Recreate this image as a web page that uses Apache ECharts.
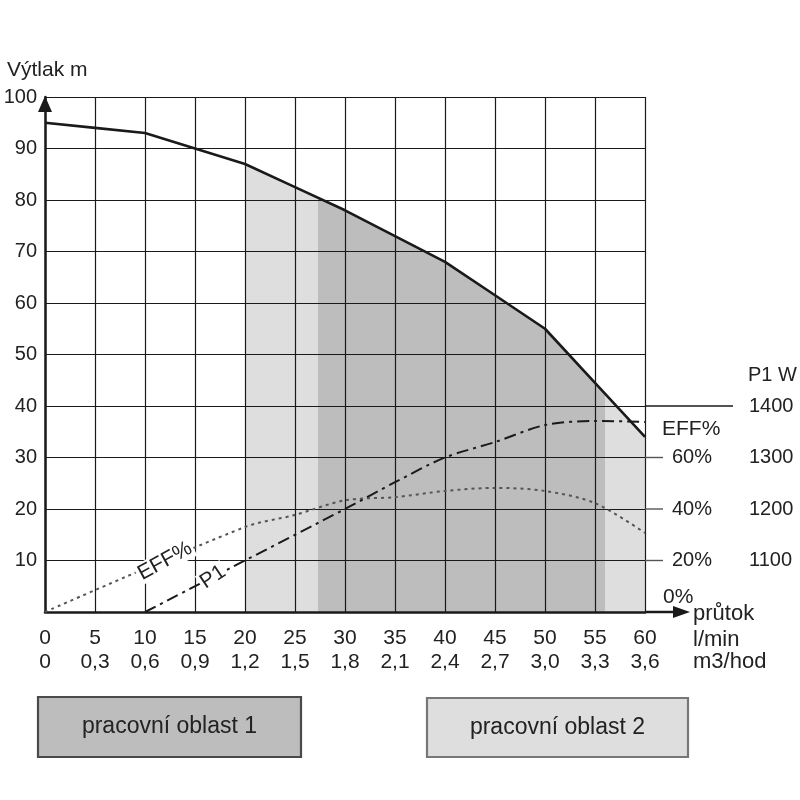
<!DOCTYPE html>
<html><head><meta charset="utf-8">
<script src="https://cdn.jsdelivr.net/npm/echarts@6/dist/echarts.min.js"></script>
<style>html,body{margin:0;padding:0;background:#fff}#c{width:800px;height:800px}</style>
</head><body><div id="c"></div>
<script>
// ---- data ----
const flowLmin = [0,5,10,15,20,25,30,35,40,45,50,55,60];
const flowM3h  = ['0','0,3','0,6','0,9','1,2','1,5','1,8','2,1','2,4','2,7','3,0','3,3','3,6'];
const headM    = [95,94,93,90,87,82.5,78,73,68,61.5,55,44.5,34];
const effX     = [0,20,25,30,35,40,45,50,55,60];
const effPct   = [0,33,37.7,43.4,44.6,47,48.2,47,42.3,30.7];
const p1X      = [10,20,30,35,40,45,50,55,60];
const p1W      = [1000,1100,1200,1252,1300,1330,1363,1371,1369];
const headTicks = [10,20,30,40,50,60,70,80,90,100];
const effTicks  = [20,40,60];
const p1Ticks   = [1100,1200,1300,1400];
const zone1 = [27.3, 56];   // pracovní oblast 1
const zone2 = [20, 60];     // pracovní oblast 2
const legendNames = ['pracovní oblast 1','pracovní oblast 2'];

const FONT = "'Liberation Sans', Arial, sans-serif";
const DARK = '#bdbdbd', LIGHT = '#dedede', INK = '#1a1a1a';

const chart = echarts.init(document.getElementById('c'), null, {renderer:'canvas'});
const pairs = (xs, ys) => xs.map((x,i)=>[x, ys[i]]);

chart.setOption({
  animation:false,
  backgroundColor:'#fff',
  textStyle:{fontFamily:FONT},
  grid:{left:45, right:155, top:97, bottom:188, containLabel:false},
  xAxis:{
    type:'value', min:0, max:60, interval:5,
    axisLine:{show:true, lineStyle:{color:INK, width:2.5}},
    axisTick:{show:false},
    splitLine:{show:true, lineStyle:{color:INK, width:1.2}},
    axisLabel:{
      color:'#222', fontSize:21, fontFamily:FONT, margin:14, lineHeight:24,
      formatter:v=>{const i=flowLmin.indexOf(v); return i<0?'':flowLmin[i]+'\n'+flowM3h[i];}
    }
  },
  yAxis:[
    {type:'value', min:0, max:100, interval:10,
     axisLine:{show:true, lineStyle:{color:INK, width:2.5}},
     axisTick:{show:false},
     splitLine:{show:true, lineStyle:{color:INK, width:1.2}},
     axisLabel:{color:'#222', fontSize:20, fontFamily:FONT, margin:8,
       formatter:v=>headTicks.includes(v)?String(v):''}},
    {type:'value', min:0, max:200, interval:20, position:'right', offset:0,
     axisLine:{show:false}, axisTick:{show:false}, splitLine:{show:false},
     axisLabel:{color:'#222', fontSize:20, fontFamily:FONT, margin:27,
       formatter:v=>effTicks.includes(v)?v+'%':''}},
    {type:'value', min:1000, max:2000, interval:100, position:'right', offset:97,
     axisLine:{show:false}, axisTick:{show:false}, splitLine:{show:false},
     axisLabel:{color:'#222', fontSize:20, fontFamily:FONT, margin:7,
       formatter:v=>p1Ticks.includes(v)?String(v):''}}
  ],
  visualMap:[{
    type:'piecewise', show:false, dimension:0, seriesIndex:0,
    pieces:[
      {min:zone2[0], max:zone1[0], color:LIGHT},
      {min:zone1[0], max:zone1[1], color:DARK},
      {min:zone1[1], max:zone2[1], color:LIGHT}
    ],
    outOfRange:{color:'rgba(255,255,255,0)'}
  }],
  series:[
    {name:'zones', type:'line', z:-1, data:pairs(flowLmin, headM), showSymbol:false, silent:true,
     lineStyle:{width:0, opacity:0}, areaStyle:{opacity:1}},
    {name:'Výtlak', type:'line', data:pairs(flowLmin, headM), showSymbol:false, z:5,
     lineStyle:{color:INK, width:2.6}},
    {name:'EFF%', type:'line', yAxisIndex:1, data:pairs(effX, effPct), showSymbol:false, smooth:0.3, z:4,
     lineStyle:{color:'#555', width:2, type:[3,4]}},
    {name:'P1', type:'line', yAxisIndex:2, data:pairs(p1X, p1W), showSymbol:false, smooth:0.3, z:4,
     lineStyle:{color:INK, width:2, type:[12,5,3,5]}}
  ]
});

// ---- decorations placed from the chart's own scales ----
const P = (x,y)=>chart.convertToPixel({xAxisIndex:0, yAxisIndex:0},[x,y]);
const effY = v=>chart.convertToPixel({yAxisIndex:1}, v);
const p1Y  = v=>chart.convertToPixel({yAxisIndex:2}, v);
const origin = P(0,0), xEnd = P(60,0), yTop = P(0,100);
const gfx = [];
const txt = (text, x, y, opts={}) => gfx.push(Object.assign({type:'text', x, y, z:20,
  style:Object.assign({text, fill:'#222', font:`20px ${FONT}`, align:'left', verticalAlign:'middle'}, opts.style||{})}, opts.el||{}));

// x-axis arrow extension
const arrowTipX = xEnd[0]+45;
gfx.push({type:'line', z:20, shape:{x1:xEnd[0], y1:xEnd[1], x2:arrowTipX-10, y2:xEnd[1]}, style:{stroke:INK, lineWidth:2.5}});
gfx.push({type:'polygon', z:20, shape:{points:[[arrowTipX,xEnd[1]],[arrowTipX-17,xEnd[1]-6],[arrowTipX-17,xEnd[1]+6]]}, style:{fill:INK}});
// y-axis arrow
gfx.push({type:'polygon', z:20, shape:{points:[[yTop[0],yTop[1]-1],[yTop[0]-7,yTop[1]+15],[yTop[0]+7,yTop[1]+15]]}, style:{fill:INK}});
// 1400 W line extension
const y1400 = p1Y(p1Ticks[p1Ticks.length-1]);
gfx.push({type:'line', z:20, shape:{x1:xEnd[0], y1:y1400, x2:xEnd[0]+88, y2:y1400}, style:{stroke:INK, lineWidth:1.3}});
// EFF ticks
effTicks.forEach(v=>{const y=effY(v); gfx.push({type:'line', z:20, shape:{x1:xEnd[0], y1:y, x2:xEnd[0]+18, y2:y}, style:{stroke:'#555', lineWidth:1.4}});});
// axis titles
txt('Výtlak m', 7, yTop[1]-27, {style:{font:`21px ${FONT}`}});
txt('P1 W', xEnd[0]+103, y1400-31, {style:{font:`20px ${FONT}`}});
txt('EFF%', xEnd[0]+17, effY(60)-28, {style:{font:`21px ${FONT}`}});
txt('0%', xEnd[0]+18, effY(0)-15, {style:{font:`21px ${FONT}`}});
txt('průtok', arrowTipX+3, origin[1]+2, {style:{font:`22px ${FONT}`}});
txt('l/min', arrowTipX+3, origin[1]+28, {style:{font:`22px ${FONT}`}});
txt('m3/hod', arrowTipX+3, origin[1]+50, {style:{font:`22px ${FONT}`}});
// curve labels
function curveLabel(text, a, b, t, extra){
  const ang=Math.atan2(-(b[1]-a[1]), b[0]-a[0]);
  const x=a[0]+(b[0]-a[0])*t, y=a[1]+(b[1]-a[1])*t;
  gfx.push({type:'text', x, y, z:20, rotation:ang+extra,
    style:{text, fill:'#222', font:`21px ${FONT}`, align:'center', verticalAlign:'middle', backgroundColor:'#fff', padding:[0,2]}});
}
const eA=[P(effX[0],0)[0], effY(effPct[0])], eB=[P(effX[1],0)[0], effY(effPct[1])];
curveLabel('EFF%', eA, eB, 0.6, 0.1);
const pA=[P(p1X[0],0)[0], p1Y(p1W[0])], pB=[P(p1X[1],0)[0], p1Y(p1W[1])];
curveLabel('P1', pA, pB, 0.68, 0.12);
// legend boxes
[[38,697,263,60,DARK,'#4a4a4a'],[427,698,261,59,LIGHT,'#777']].forEach((b,i)=>{
  gfx.push({type:'rect', z:20, shape:{x:b[0], y:b[1], width:b[2], height:b[3]}, style:{fill:b[4], stroke:b[5], lineWidth:2.2}});
  gfx.push({type:'text', z:21, x:b[0]+b[2]/2, y:b[1]+b[3]/2, style:{text:legendNames[i], fill:'#222', font:`23px ${FONT}`, align:'center', verticalAlign:'middle'}});
});
chart.setOption({graphic:gfx});
</script></body></html>
